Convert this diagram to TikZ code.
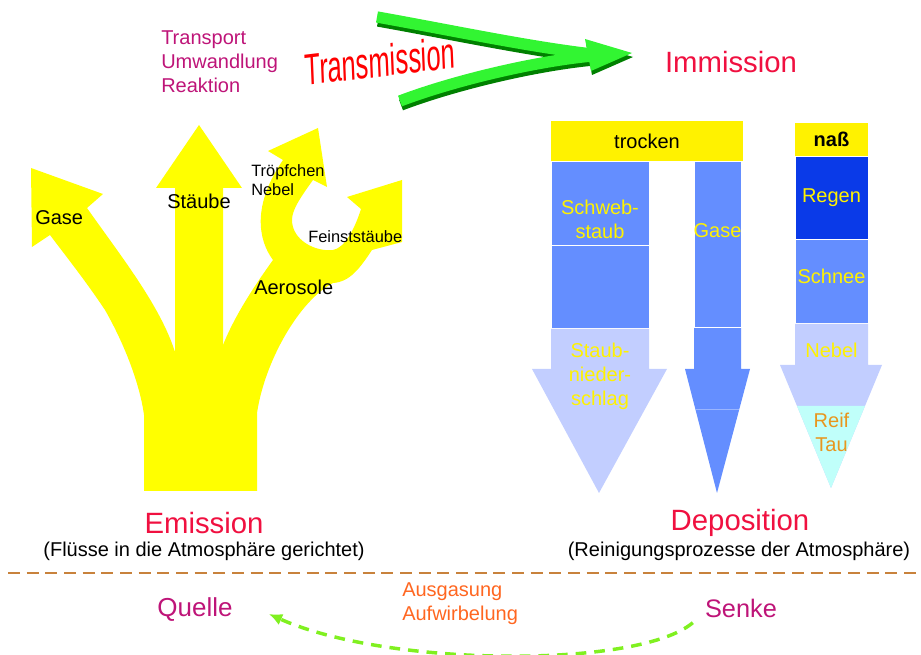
\documentclass[tikz,border=0pt]{standalone}
\usepackage{fontspec}
\setmainfont{Liberation Sans}
\usetikzlibrary{arrows.meta,calc,positioning}
\newcommand{\px}{0.75pt}
\definecolor{flowyel}{RGB}{255,255,0}
\definecolor{midblue}{RGB}{100,142,255}
\definecolor{darkblue}{RGB}{10,58,232}
\definecolor{paleblue}{RGB}{194,206,255}
\definecolor{palecyan}{RGB}{192,255,250}
\definecolor{titlered}{RGB}{240,16,64}
\definecolor{procpurple}{RGB}{190,20,120}
\definecolor{procorange}{RGB}{255,102,32}
\definecolor{reiforange}{RGB}{232,150,30}
\definecolor{divbrown}{RGB}{200,130,60}
\definecolor{recgreen}{RGB}{128,240,32}
\definecolor{trgreen}{RGB}{50,245,50}
\definecolor{trshade}{RGB}{0,128,0}
\tikzset{
    titlesty/.style={text=titlered,font=\fontsize{22}{26}\selectfont,inner sep=0pt},
    notesty/.style={text=black,font=\fontsize{15}{18}\selectfont,inner sep=0pt},
    flowsty/.style={font=\fontsize{15}{18}\selectfont,inner sep=0pt,anchor=west,align=left},
    smallsty/.style={font=\fontsize{12.3}{14.5}\selectfont,inner sep=0pt,anchor=west,align=left},
    colsty/.style={text=yellow,font=\fontsize{15}{18}\selectfont,inner sep=0pt,align=center},
    segsty/.style={draw=white,line width=0.75pt,inner sep=0pt,outer sep=0pt},
    headsty/.style={fill=yellow,inner sep=0pt,font=\fontsize{15}{18}\selectfont},
    divsty/.style={draw=divbrown,line width=1.5pt,dash pattern=on 9pt off 5pt},
    recsty/.style={draw=recgreen,line width=2.6pt,dash pattern=on 8pt off 6pt,-{Latex[length=10pt,width=9pt]}},
    bandsty/.style={line width=8.5pt,line cap=butt},
}

\begin{document}
\begin{tikzpicture}[x=\px,y=-\px]
  \useasboundingbox (0,0) rectangle (921,655);

  % emission tree
  \fill[flowyel] (144,491) -- (144,415) .. controls (140,385) and (125,345) .. (105,310)
     .. controls (85,280) and (65,255) .. (50,235) -- (32,247) -- (31,168) -- (103,194) -- (87,208)
     .. controls (120,255) and (160,305) .. (175,352) -- (175,491) -- cycle;
  \fill[flowyel] (175,491) -- (175,188) -- (156,188) -- (199,125) -- (242,188) -- (223,188) -- (223,491) -- cycle;
  \fill[flowyel] (223,491) -- (223,345) .. controls (235,315) and (255,285) .. (273,260)
     .. controls (258,240) and (252,205) .. (283,160) -- (268,151) -- (318,128) -- (327,187) -- (313,180)
     .. controls (300,198) and (292,210) .. (292,220) .. controls (292,240) and (315,252) .. (333,250)
     .. controls (345,248) and (355,228) .. (361,209) -- (347,197) -- (402,180) -- (402,242) -- (372,250)
     .. controls (360,268) and (350,282) .. (333,283) .. controls (300,300) and (265,360) .. (257,413)
     -- (257,491) -- cycle;

  \node[flowsty] (gase) at (35,218) {Gase};
  \node[flowsty] (staube) at (167,201) {Stäube};
  \node[smallsty] (tropf) at (251,180) {Tröpfchen\\Nebel};
  \node[smallsty] (feinst) at (308,237) {Feinststäube};
  \node[flowsty] (aerosole) at (254,287) {Aerosole};

  \node[flowsty,text=procpurple] (transport) at (161,62) {Transport\\Umwandlung\\Reaktion};

  % transmission arrow
  \begin{scope}[shift={(1,4)}]
    \draw[bandsty,trshade] (377,17) .. controls (450,30) and (530,47) .. (592,54);
    \draw[bandsty,trshade] (400,101) .. controls (450,82) and (530,62) .. (592,56);
    \fill[trshade] (585,39) -- (632,53) -- (591,71) -- cycle;
  \end{scope}
  \draw[bandsty,trgreen] (377,17) .. controls (450,30) and (530,47) .. (592,54);
  \draw[bandsty,trgreen] (400,101) .. controls (450,82) and (530,62) .. (592,56);
  \fill[trgreen] (585,39) -- (632,53) -- (591,71) -- cycle;
  \node[text=red,font=\fontsize{33}{36}\selectfont,xscale=0.58,rotate=4,inner sep=0pt] (transm) at (380,61) {Transmission};

  \node[titlesty] (immission) at (731,62) {Immission};

  % dry deposition
  \node[headsty,minimum width=192*\px,minimum height=40*\px] (trocken) at (647,141) {trocken};
  \node[segsty,fill=midblue,minimum width=98*\px,minimum height=83.5*\px] (schweb) at (600,203.75) {};
  \node[segsty,fill=midblue,minimum width=98*\px,minimum height=83.5*\px] (schweb2) at (600,287.25) {};
  \fill[paleblue] (551,329) -- (649,329) -- (649,369) -- (667,369) -- (599,493) -- (532,369) -- (551,369) -- cycle;
  \node[colsty] at (600,219) {Schweb-\\staub};
  \node[colsty] at (600,376) {Staub-\\nieder-\\schlag};

  \node[segsty,fill=midblue,minimum width=47*\px,minimum height=166*\px] (gascol) at (717.5,245) {};
  \fill[midblue] (694,328) -- (741,328) -- (741,369) -- (750,369) -- (717,493) -- (685,369) -- (694,369) -- cycle;
  \draw[white,line width=0.75pt] (694,328) -- (741,328);
  \draw[white,opacity=0.35,line width=0.75pt] (696,410) -- (739,410);
  \node[colsty] at (717.5,231) {Gase};

  % wet deposition
  \node[headsty,font=\fontsize{15}{18}\selectfont\bfseries,minimum width=73*\px,minimum height=33*\px] (nass) at (831.5,139.5) {naß};
  \node[segsty,fill=darkblue,minimum width=73*\px,minimum height=84*\px] (regen) at (831.5,198.5) {};
  \node[segsty,fill=midblue,minimum width=73*\px,minimum height=84*\px] (schnee) at (831.5,282) {};
  \fill[paleblue] (795,324) -- (868,324) -- (868,365) -- (882,365) -- (831,488) -- (780,365) -- (795,365) -- cycle;
  \fill[palecyan] (797,406) -- (865,406) -- (831,488) -- cycle;
  \node[colsty] at (831.5,198) {Regen};
  \node[colsty] at (831.5,276) {Schnee};
  \node[colsty] at (831.5,350) {Nebel};
  \node[colsty,text=reiforange] at (831.5,432) {Reif\\Tau};

  \node[titlesty] (emission) at (204,523) {Emission};
  \node[notesty] (emnote) at (204,551) {(Flüsse in die Atmosphäre gerichtet)};
  \node[titlesty] (deposition) at (740,523) {Deposition};
  \node[notesty] (depnote) at (739,551) {(Reinigungsprozesse der Atmosphäre)};

  \draw[divsty] (8,573) -- (921,573);

  \node[flowsty,text=procorange] (ausgas) at (402,604) {Ausgasung\\Aufwirbelung};
  \node[text=procpurple,font=\fontsize{19.5}{22}\selectfont,inner sep=0pt] (quelle) at (195,610) {Quelle};
  \node[text=procpurple,font=\fontsize{19}{22}\selectfont,inner sep=0pt] (senke) at (741,608) {Senke};
  \draw[recsty] ([xshift=-9pt,yshift=-11pt]senke.west) .. controls (640,668) and (390,668) .. ([xshift=27pt,yshift=-3pt]quelle.east);
\end{tikzpicture}
\end{document}
